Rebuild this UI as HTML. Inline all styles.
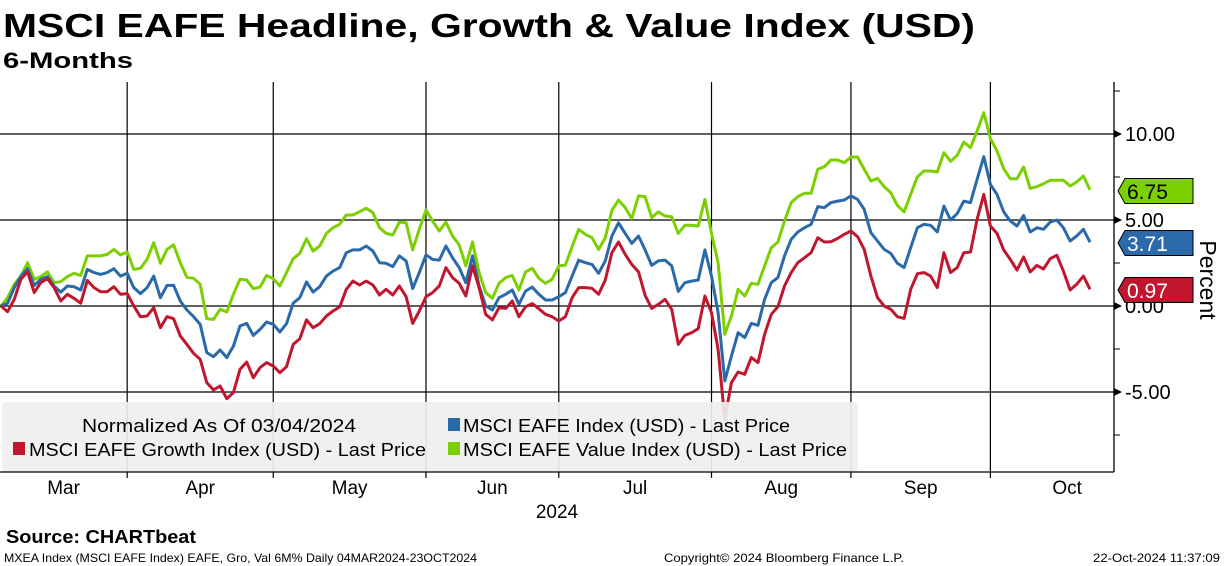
<!DOCTYPE html>
<html><head><meta charset="utf-8"><style>
html,body{margin:0;padding:0;background:#fff;}
svg{display:block;font-family:"Liberation Sans",sans-serif;}
</style></head><body>
<svg id="chart" width="1224" height="566" viewBox="0 0 1224 566" xmlns="http://www.w3.org/2000/svg">
<text x="3" y="37" font-size="33" font-weight="bold" textLength="972" lengthAdjust="spacingAndGlyphs">MSCI EAFE Headline, Growth &amp; Value Index (USD)</text>
<text x="3" y="68" font-size="22" font-weight="bold" textLength="130" lengthAdjust="spacingAndGlyphs">6-Months</text>
<g id="grid"></g>
<g id="series"></g>
<g id="legend">
<rect x="2" y="402" width="856" height="70" rx="4" fill="#efefef" fill-opacity="0.92"/>
<text x="82" y="432" font-size="18" textLength="274" lengthAdjust="spacingAndGlyphs">Normalized As Of 03/04/2024</text>
<rect x="448" y="418" width="12" height="13" fill="#2a6aa8"/>
<text x="463" y="432" font-size="18" textLength="327" lengthAdjust="spacingAndGlyphs">MSCI EAFE Index (USD) - Last Price</text>
<rect x="13" y="442" width="12" height="13" fill="#c0172f"/>
<text x="29" y="456" font-size="18" textLength="397" lengthAdjust="spacingAndGlyphs">MSCI EAFE Growth Index (USD) - Last Price</text>
<rect x="448" y="442" width="12" height="13" fill="#7ccf00"/>
<text x="463" y="456" font-size="18" textLength="384" lengthAdjust="spacingAndGlyphs">MSCI EAFE Value Index (USD) - Last Price</text>
</g>
<g id="axes"></g>
<text transform="translate(1200,280) rotate(90)" text-anchor="middle" font-size="23">Percent</text>
<text x="557" y="518" text-anchor="middle" font-size="19">2024</text>
<text x="6" y="543" font-size="18" font-weight="bold" textLength="190" lengthAdjust="spacingAndGlyphs">Source: CHARTbeat</text>
<text x="4" y="562" font-size="12" textLength="473" lengthAdjust="spacingAndGlyphs">MXEA Index (MSCI EAFE Index) EAFE, Gro, Val 6M%  Daily 04MAR2024-23OCT2024</text>
<text x="664" y="562" font-size="12" textLength="240" lengthAdjust="spacingAndGlyphs">Copyright© 2024 Bloomberg Finance L.P.</text>
<text x="1093" y="562" font-size="12" textLength="127" lengthAdjust="spacingAndGlyphs">22-Oct-2024 11:37:09</text>
</svg>
<script>
const valueSeries = [0,0.48,1.26,1.74,2.52,1.55,1.71,1.98,1.36,1.41,1.71,1.90,1.78,2.91,2.91,2.91,3.00,3.29,2.97,3.14,2.13,2.19,2.71,3.68,2.48,3.29,3.55,2.52,1.67,1.61,1.26,-0.74,-0.78,-0.19,-0.35,0.68,1.55,1.51,1.01,1.10,1.78,1.59,1.16,1.94,2.75,3.06,3.91,3.20,3.49,4.22,4.55,4.75,5.29,5.29,5.48,5.68,5.43,4.55,4.22,4.13,4.88,4.84,3.26,4.46,
5.58,4.94,4.36,4.88,4.07,3.55,2.33,3.72,1.94,0.78,0.45,1.32,1.65,1.78,0.93,1.98,2.19,1.61,1.32,1.55,2.33,2.38,3.45,4.46,4.17,3.97,3.29,3.97,5.56,6.16,5.72,5.08,6.40,6.36,5.14,5.47,5.23,5.19,4.22,4.69,4.69,4.65,6.20,4.22,2.52,-1.65,-0.58,0.97,0.58,1.32,1.26,2.33,3.39,3.72,4.94,6.01,6.36,6.55,6.55,7.95,
8.10,8.49,8.49,8.33,8.66,8.66,7.95,7.27,7.42,6.94,6.59,5.85,5.47,6.49,7.52,7.85,7.85,7.79,8.91,8.41,8.76,9.53,9.21,10.17,11.24,9.73,9.01,7.98,7.40,7.40,8.08,6.84,6.94,7.11,7.31,7.31,7.31,6.98,7.21,7.56,6.75];
const headlineSeries = [0,0.16,1.07,1.74,2.17,1.20,1.55,1.71,1.16,0.81,1.16,1.12,0.93,2.13,1.94,1.84,1.94,2.17,1.74,1.90,1.07,0.72,1.07,1.74,0.48,1.20,1.20,0.29,-0.23,-0.62,-1.07,-2.71,-2.95,-2.56,-3.00,-2.33,-1.16,-1.01,-1.71,-1.36,-0.93,-1.07,-1.51,-1.03,0.16,0.48,1.40,0.81,1.12,1.74,2.03,2.23,3.10,3.26,3.26,3.49,3.20,2.52,2.48,2.29,2.91,2.62,1.01,1.94,
2.97,2.71,2.67,3.49,2.81,2.23,1.36,2.91,1.16,0,-0.23,0.48,0.68,0.93,0.10,0.87,1.10,0.68,0.35,0.35,0.54,0.78,1.74,2.67,2.52,2.42,1.90,2.62,4.07,4.84,4.22,3.64,4.07,3.26,2.36,2.62,2.67,2.33,0.85,1.36,1.45,1.51,3.26,1.74,-0.39,-4.36,-2.91,-1.55,-1.84,-1.01,-1.12,0.39,1.36,1.65,2.91,3.88,4.30,4.55,4.75,5.78,
5.72,6.01,6.10,6.16,6.40,6.20,5.62,4.26,3.78,3.29,3.06,2.48,2.23,3.39,4.55,4.75,4.69,4.30,5.81,5.00,5.37,6.10,6.01,7.36,8.68,7.07,6.49,5.47,4.94,4.65,5.27,4.30,4.55,4.46,4.88,5.00,4.55,3.78,4.07,4.46,3.71];
const growthSeries = [0,-0.33,0.39,1.55,1.98,0.78,1.36,1.59,1.07,0.29,0.68,0.45,0.16,1.49,1.07,0.83,0.83,1.12,0.68,0.72,0,-0.62,-0.58,-0.10,-1.26,-0.62,-0.74,-1.74,-2.23,-2.75,-3.10,-4.46,-4.88,-4.65,-5.39,-5.04,-3.68,-3.26,-4.17,-3.59,-3.29,-3.49,-3.88,-3.53,-2.23,-1.90,-0.81,-1.26,-1.03,-0.58,-0.29,-0.06,0.97,1.45,1.22,1.45,1.22,0.64,0.97,0.64,1.16,0.54,-1.01,-0.29,
0.54,0.78,1.16,2.23,1.65,1.32,0.58,2.33,1.07,-0.48,-0.81,-0.10,-0.14,0.29,-0.62,-0.04,0.14,-0.16,-0.48,-0.62,-0.87,-0.62,0.48,1.07,1.07,1.03,0.68,1.51,3.10,3.72,3.00,2.42,1.98,0.62,-0.14,0.10,0.39,-0.19,-2.23,-1.71,-1.55,-1.32,0.58,-0.39,-2.52,-6.59,-4.46,-3.84,-3.97,-3.00,-3.29,-1.65,-0.48,-0.04,1.16,1.94,2.52,2.81,3.10,3.97,
3.72,3.74,3.93,4.17,4.36,4.03,3.29,1.74,0.48,0,-0.19,-0.62,-0.72,0.97,1.88,1.94,1.74,1.07,3.10,1.94,2.23,3.10,3.14,5.04,6.49,4.65,4.22,3.26,2.71,2.09,2.85,1.98,2.36,2.15,2.75,2.95,2.03,0.93,1.26,1.74,0.97];
const yTicks = [10, 5, 0, -5];
const yTickLabels = ["10.00","5.00","0.00","-5.00"];
const monthLabels = ["Mar","Apr","May","Jun","Jul","Aug","Sep","Oct"];
const monthStartIndex = [0,20,42,65,85,108,129,150];

const NS="http://www.w3.org/2000/svg";
const X0=1, X1=1090, PT=82, PB=472, PR=1114;
const N=valueSeries.length;
function xs(i){return X0+(X1-X0)*i/(N-1);}
function ys(v){return 306-v*17.2;}
function mk(tag,attrs,parent){const e=document.createElementNS(NS,tag);for(const k in attrs)e.setAttribute(k,attrs[k]);parent.appendChild(e);return e;}
const grid=document.getElementById('grid'), axes=document.getElementById('axes'), ser=document.getElementById('series');
yTicks.forEach((t,k)=>{
  const l=mk('line',{x1:0,x2:PR,y1:ys(t),y2:ys(t),stroke:'#000','stroke-width':1.3},grid);
  
  
  const tr=mk('path',{d:`M${PR} ${ys(t)-4} L${PR+8} ${ys(t)} L${PR} ${ys(t)+4}Z`,fill:'#000'},axes);
  
  
  const tx=mk('text',{x:PR+11,y:ys(t)+7,'font-size':20},axes);
  tx.textContent=yTickLabels[k];
  
  
});
[12.5,7.5,2.5,-2.5,-7.5].forEach(t=>{
  const m=mk('line',{x1:PR,x2:PR+6,y1:ys(t),y2:ys(t),stroke:'#000'},axes);
  
  
});
const ax=mk('line',{x1:PR,x2:PR,y1:PT,y2:PB,stroke:'#000','stroke-width':1.3},axes);


const bx=mk('line',{x1:0,x2:PR,y1:PB,y2:PB,stroke:'#000','stroke-width':1.3},axes);


const bounds=monthStartIndex.map(i=>i===0?0:xs(i-1));
bounds.push(PR+30);
monthLabels.forEach((m,k)=>{
  if(k>0){
    const g=mk('line',{x1:bounds[k],x2:bounds[k],y1:PT,y2:PB+6,stroke:'#000','stroke-width':1.2},grid);
    
    
  }
  const tx=mk('text',{x:(bounds[k]+bounds[k+1])/2,y:494,'font-size':19,'text-anchor':'middle'},axes);
  tx.textContent=m;
  
  
});
function line(arr,color,name){
  const p=mk('polyline',{points:arr.map((v,i)=>xs(i).toFixed(1)+','+ys(v).toFixed(1)).join(' '),fill:'none',stroke:color,'stroke-width':3,'stroke-linejoin':'round'},ser);
  
  
}
line(valueSeries,'#7ccf00','line-value-index');
line(headlineSeries,'#2a6aa8','line-eafe-index');
line(growthSeries,'#c0172f','line-growth-index');
const legend=document.getElementById('legend');
legend.parentNode.insertBefore(ser,legend);
function tag(arr,color,ty,name){
  const v=arr[arr.length-1];
  const g=mk('g',{},axes);
  
  
  mk('path',{d:`M1118 ${ty} L1125 ${ty-12.5} L1193 ${ty-12.5} L1193 ${ty+12.5} L1125 ${ty+12.5}Z`,fill:color,stroke:'#000','stroke-width':1},g);
  const t=mk('text',{x:1127,y:ty+8,'font-size':21,fill:color==='#7ccf00'?'#000':'#fff'},g);
  t.textContent=v.toFixed(2);
}
tag(valueSeries,'#7ccf00',191,'last-value-tag-value');
tag(headlineSeries,'#2a6aa8',243,'last-value-tag-eafe');
tag(growthSeries,'#c0172f',290,'last-value-tag-growth');
</script>
</body></html>
